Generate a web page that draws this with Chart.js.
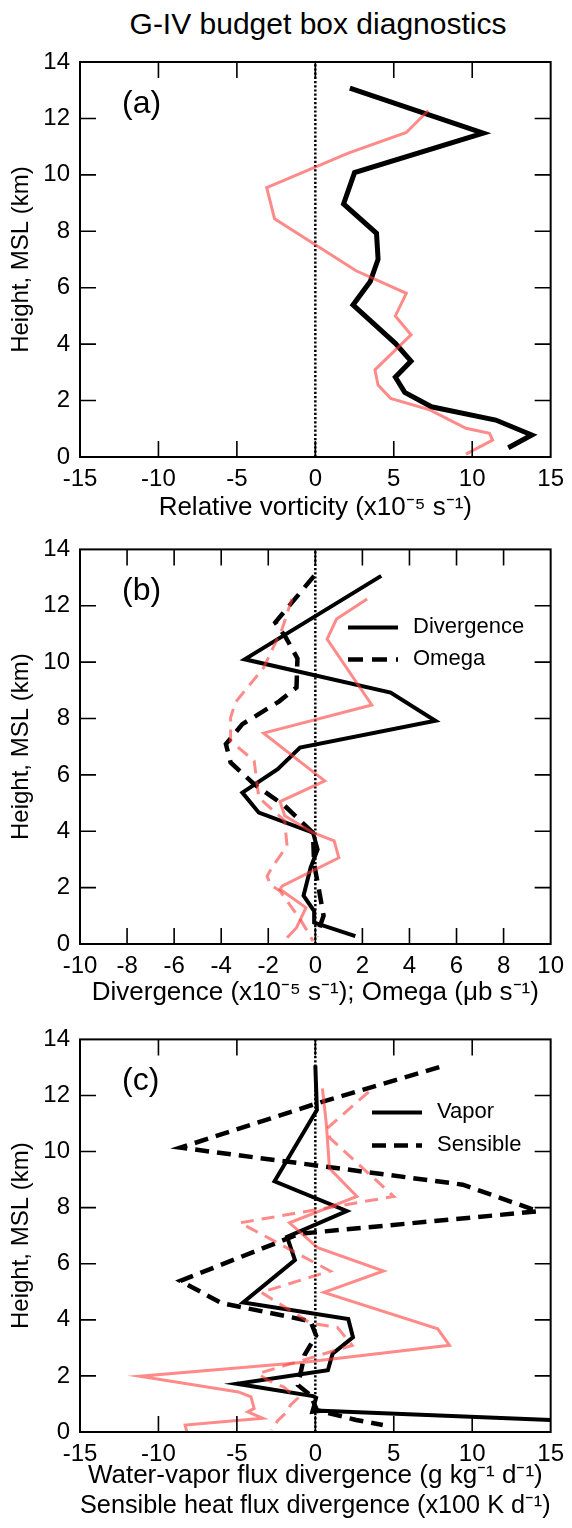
<!DOCTYPE html>
<html>
<head>
<meta charset="utf-8">
<script src="https://cdn.jsdelivr.net/npm/chart.js@4.4.1/dist/chart.umd.min.js"></script>
<style>
  body { margin: 0; background: #fff; width: 572px; height: 1528px; position: relative; overflow: hidden; }
  .panel { position: absolute; left: 0; width: 572px; }
  #title { position: absolute; left: 0; width: 636px; top: 7px; text-align: center; font: 30px "Liberation Sans", Arial, sans-serif; color: #000; }
</style>
</head>
<body>
<div id="title">G-IV budget box diagnostics</div>
<div class="panel" style="top:0px"><canvas id="chartA" width="572" height="525"></canvas></div>
<div class="panel" style="top:525px"><canvas id="chartB" width="572" height="490"></canvas></div>
<div class="panel" style="top:1015px"><canvas id="chartC" width="572" height="513"></canvas></div>
<script>
// ---- data (x value, height in km) ----
const zeroX = [0, 0];
const zeroH = [0, 14];

// (a) relative vorticity
const aBlackH = [13.07, 11.48, 10.08, 8.97, 7.93, 7.01, 6.22, 5.39, 4.03, 3.40, 2.83, 2.29, 1.78, 1.31, 0.78, 0.33];
const aBlackX = [2.2, 10.7, 2.5, 1.8, 3.9, 4.0, 3.5, 2.4, 5.1, 6.1, 5.1, 5.7, 7.4, 11.5, 13.8, 12.3];
const aRedH = [12.28, 11.5, 10.77, 9.55, 8.44, 6.6, 5.8, 5.0, 4.33, 3.09, 2.55, 2.08, 1.67, 1.02, 0.84, 0.6, 0.1];
const aRedX = [7.2, 5.8, 2.1, -3.1, -2.6, 2.6, 5.8, 5.1, 6.1, 3.8, 4.0, 4.8, 7.3, 9.6, 11.1, 11.3, 9.6];

// (b) divergence / omega
const bDivH = [13.06, 10.1, 8.92, 7.92, 6.97, 6.2, 5.37, 4.66, 3.95, 3.36, 2.71, 1.72, 1.17, 0.76, 0.28];
const bDivX = [2.8, -3.0, 3.2, 5.1, -0.65, -1.6, -3.1, -2.4, -0.1, 0.1, -0.2, -0.5, -0.05, -0.05, 1.7];
const bOmgH = [13.06, 11.41, 10.87, 10.13, 9.1, 8.6, 7.8, 7.09, 6.44, 5.67, 4.9, 3.95, 2.83, 1.94, 1.0, 0.28];
const bOmgX = [-0.05, -1.7, -1.25, -0.76, -0.8, -1.55, -3.1, -3.8, -3.6, -2.6, -1.3, -0.1, -0.05, 0.15, 0.35, 0.05];
const bRedDivH = [12.24, 11.53, 10.82, 8.48, 7.48, 5.79, 5.05, 4.55, 3.95, 3.66, 3.06, 2.06, 1.94, 1.29, 0.58, 0.22];
const bRedDivX = [2.2, 0.9, 0.5, 2.4, -2.2, 0.4, -1.5, -1.3, -0.1, 0.8, 1.0, -1.4, -1.5, -0.4, -0.8, -1.2];
const bRedOmgH = [12.24, 11.2, 9.8, 8.57, 8.03, 7.2, 6.5, 5.19, 4.37, 3.9, 3.48, 2.77, 2.41, 2.09, 1.88, 0.82, 0.11];
const bRedOmgX = [-1.0, -1.4, -2.2, -3.4, -3.6, -3.6, -2.6, -2.4, -1.3, -1.25, -1.2, -1.8, -2.05, -1.9, -1.5, -0.6, -0.1];

// (c) vapor / sensible heat flux divergence
const cVapH = [13.07, 11.48, 8.94, 7.88, 6.96, 6.13, 4.62, 4.03, 3.38, 2.79, 2.2, 1.72, 1.28, 1.22, 0.72, 0.76, 0.43];
const cVapX = [0.0, 0.1, -2.6, 2.0, -1.8, -1.3, -4.6, 2.1, 2.4, 1.1, 0.8, -5.0, -0.15, 0.05, -0.2, 0.4, 15];
const cSenH = [13.01, 11.7, 10.14, 8.82, 7.87, 7.07, 5.39, 4.6, 3.95, 3.44, 2.73, 1.67, 1.31, 0.78, 0.43, 0.25];
const cSenX = [7.9, 0.0, -8.6, 9.4, 14.2, -1.0, -8.6, -6.0, -0.3, 0.05, -0.7, -1.1, -0.3, 0.1, 2.6, 4.3];
const cRedVapH = [12.25, 11.0, 9.4, 8.4, 7.46, 6.57, 5.74, 4.98, 3.68, 3.09, 2.49, 1.99, 1.43, 1.25, 0.84, 0.72, 0.49, 0.25, 0.02];
const cRedVapX = [0.45, 0.7, 0.9, 2.65, -1.65, 0.15, 4.35, 0.55, 7.8, 8.55, -0.7, -11.2, -4.9, -4.1, -3.9, -4.3, -3.35, -8.3, -8.2];
const cRedSenH = [12.13, 10.83, 10.47, 8.4, 7.46, 5.74, 4.98, 3.88, 3.73, 3.09, 2.08, 1.84, 1.6, 1.19, 0.95, 0.75, 0.4, 0.07];
const cRedSenX = [3.4, 0.75, 0.95, 5.0, -4.8, 0.95, -3.45, -0.3, 1.4, 2.35, -3.65, -3.0, -2.0, -1.15, -1.6, -1.75, -2.4, -2.8];

const heightTicks = [0, 2, 4, 6, 8, 10, 12, 14];

const fontFamily = "'Liberation Sans', Arial, sans-serif";
const red = "rgba(255, 60, 60, 0.6)";

function pts(xs, hs) {
  return xs.map((x, i) => ({ x: x, y: hs[i] }));
}

function line(xs, hs, color, width, dash) {
  return {
    data: pts(xs, hs),
    showLine: true,
    borderColor: color,
    borderWidth: width,
    borderDash: dash || [],
    pointRadius: 0,
    tension: 0,
    fill: false
  };
}

function zeroLine() {
  return line(zeroX, zeroH, "#000", 2.5, [2.2, 2]);
}

// frame, inward ticks, panel letter and legend
function decor(label, legend) {
  return {
    id: "decor",
    afterDatasetsDraw(chart) {
      const { ctx, chartArea: a, scales } = chart;
      ctx.save();
      ctx.strokeStyle = "#000";
      ctx.lineWidth = 2;
      ctx.setLineDash([]);
      ctx.strokeRect(a.left, a.top, a.right - a.left, a.bottom - a.top);
      ctx.lineWidth = 1.6;
      ctx.beginPath();
      const len = 16;
      scales.x.ticks.forEach(t => {
        if (t.value <= scales.x.min || t.value >= scales.x.max) return;
        const px = scales.x.getPixelForValue(t.value);
        ctx.moveTo(px, a.bottom); ctx.lineTo(px, a.bottom - len);
        ctx.moveTo(px, a.top); ctx.lineTo(px, a.top + len);
      });
      scales.y.ticks.forEach(t => {
        if (t.value <= scales.y.min || t.value >= scales.y.max) return;
        const py = scales.y.getPixelForValue(t.value);
        ctx.moveTo(a.left, py); ctx.lineTo(a.left + len, py);
        ctx.moveTo(a.right, py); ctx.lineTo(a.right - len, py);
      });
      ctx.stroke();

      ctx.fillStyle = "#000";
      ctx.textBaseline = "middle";
      ctx.font = "32px " + fontFamily;
      ctx.fillText(label, a.left + 42, a.top + 42);

      legend.forEach(item => {
        const ds = chart.data.datasets[item.ds];
        const x = a.left + item.x;
        const y = a.top + item.y;
        ctx.beginPath();
        ctx.setLineDash(ds.borderDash);
        ctx.lineWidth = ds.borderWidth;
        ctx.strokeStyle = ds.borderColor;
        ctx.moveTo(x, y); ctx.lineTo(x + 50, y);
        ctx.stroke();
        ctx.setLineDash([]);
        ctx.font = "22px " + fontFamily;
        ctx.fillText(item.text, x + 65, y);
      });
      ctx.restore();
    }
  };
}

function makePanel(id, cfg) {
  const canvas = document.getElementById(id);
  return new Chart(canvas, {
    type: "scatter",
    data: { datasets: cfg.datasets },
    options: {
      responsive: false,
      animation: false,
      devicePixelRatio: 1,
      events: [],
      layout: { padding: { top: cfg.top, right: 17, left: 0, bottom: 0 } },
      plugins: { legend: { display: false }, tooltip: { enabled: false } },
      scales: {
        x: {
          type: "linear",
          min: cfg.xMin,
          max: cfg.xMax,
          ticks: {
            stepSize: cfg.xStep,
            padding: 8,
            color: "#000",
            maxRotation: 0,
            autoSkip: false,
            font: { family: fontFamily, size: 24 }
          },
          grid: { display: false, drawTicks: false },
          border: { display: false },
          title: {
            display: true,
            text: cfg.xTitle,
            color: "#000",
            font: { family: fontFamily, size: 26, lineHeight: 1.12 },
            padding: { top: 0, bottom: cfg.titlePad }
          },
          afterFit: s => { s.height = cfg.xHeight; }
        },
        y: {
          type: "linear",
          min: 0,
          max: 14,
          afterBuildTicks: s => { s.ticks = heightTicks.map(v => ({ value: v })); },
          ticks: {
            padding: 10,
            color: "#000",
            font: { family: fontFamily, size: 24 }
          },
          grid: { display: false, drawTicks: false },
          border: { display: false },
          title: {
            display: true,
            text: "Height, MSL (km)",
            color: "#000",
            font: { family: fontFamily, size: 24, lineHeight: 1.12 },
            padding: { top: 8, bottom: 0 }
          },
          afterFit: s => { s.width = 80; }
        }
      }
    },
    plugins: [decor(cfg.label, cfg.legend)]
  });
}

makePanel("chartA", {
  top: 62,
  xHeight: 68,
  titlePad: 3,
  xMin: -15, xMax: 15, xStep: 5,
  xTitle: "Relative vorticity (x10\u207B\u2075 s\u207B\u00B9)",
  label: "(a)",
  legend: [],
  datasets: [
    line(aRedX, aRedH, red, 3),
    line(aBlackX, aBlackH, "#000", 5),
    zeroLine()
  ]
});

makePanel("chartB", {
  top: 24,
  xHeight: 71,
  titlePad: 8,
  xMin: -10, xMax: 10, xStep: 2,
  xTitle: "Divergence (x10\u207B\u2075 s\u207B\u00B9); Omega (\u03BCb s\u207B\u00B9)",
  label: "(b)",
  legend: [
    { ds: 2, text: "Divergence", x: 268, y: 78 },
    { ds: 3, text: "Omega", x: 268, y: 110 }
  ],
  datasets: [
    line(bRedDivX, bRedDivH, red, 3),
    line(bRedOmgX, bRedOmgH, red, 3, [13, 8]),
    line(bDivX, bDivH, "#000", 4),
    line(bOmgX, bOmgH, "#000", 4.5, [15, 9]),
    zeroLine()
  ]
});

makePanel("chartC", {
  top: 22,
  xHeight: 96,
  titlePad: 8,
  xMin: -15, xMax: 15, xStep: 5,
  xTitle: [
    "Water-vapor flux divergence (g kg\u207B\u00B9 d\u207B\u00B9)",
    "Sensible heat flux divergence (x100 K d\u207B\u00B9)"
  ],
  label: "(c)",
  legend: [
    { ds: 2, text: "Vapor", x: 292, y: 73 },
    { ds: 3, text: "Sensible", x: 292, y: 106 }
  ],
  datasets: [
    line(cRedVapX, cRedVapH, red, 3),
    line(cRedSenX, cRedSenH, red, 3, [13, 8]),
    line(cVapX, cVapH, "#000", 4),
    line(cSenX, cSenH, "#000", 4.5, [14, 8]),
    zeroLine()
  ]
});
</script>
</body>
</html>
